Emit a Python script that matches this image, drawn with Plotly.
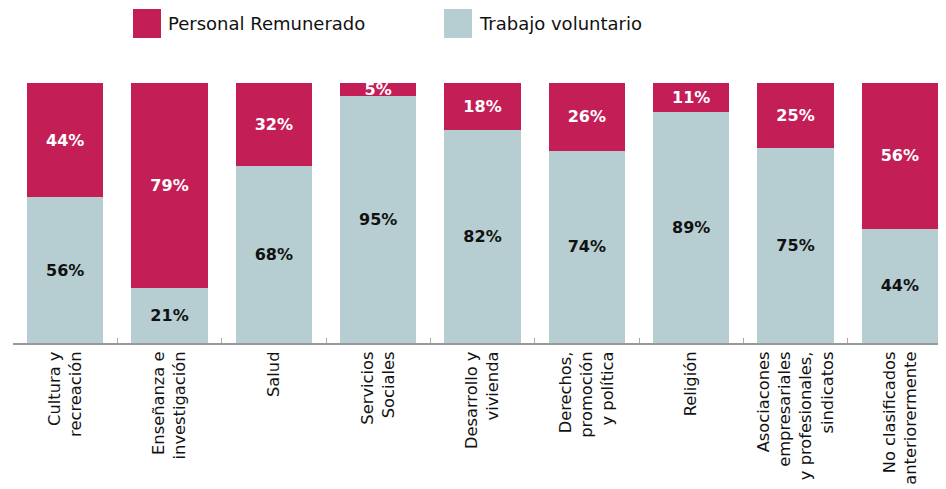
import plotly.graph_objects as go

categorias = ['Cultura y<br>recreación', 'Enseñanza e<br>investigación', 'Salud',
              'Servicios<br>Sociales', 'Desarrollo y<br>vivienda',
              'Derechos,<br>promoción<br>y política', 'Religión',
              'Asociacones<br>empresariales<br>y profesionales,<br>sindicatos',
              'No clasificados<br>anteriorermente']
remunerado = [44, 79, 32, 5, 18, 26, 11, 25, 56]
voluntario = [56, 21, 68, 95, 82, 74, 89, 75, 44]

ROJO = '#C41E56'
GRIS = '#B6CED1'
FUENTE = 'DejaVu Sans'

fig = go.Figure()

fig.add_trace(go.Bar(x=categorias, y=voluntario, name='Trabajo voluntario',
                     marker=dict(color=GRIS, line=dict(width=0)),
                     text=[f'{v}%' for v in voluntario],
                     textposition='inside', insidetextanchor='middle',
                     textfont=dict(color='#111111', size=16, family=FUENTE, weight='bold'),
                     showlegend=False, hoverinfo='skip'))
fig.add_trace(go.Bar(x=categorias, y=remunerado, name='Personal Remunerado',
                     marker=dict(color=ROJO, line=dict(width=0)),
                     text=[f'{v}%' for v in remunerado],
                     textposition='inside', insidetextanchor='middle',
                     textfont=dict(color='white', size=16, family=FUENTE, weight='bold'),
                     showlegend=False, hoverinfo='skip'))

# leyenda dibujada a mano (cuadros grandes)
leyenda = [('Personal Remunerado', ROJO, 133), ('Trabajo voluntario', GRIS, 444)]
for nombre, color, x0 in leyenda:
    fig.add_shape(type='rect', xref='paper', yref='paper',
                  x0=(x0 - 13) / 939, x1=(x0 + 28 - 13) / 939,
                  y0=(343 - 38) / 260, y1=(343 - 9) / 260,
                  fillcolor=color, line=dict(width=0))
    fig.add_annotation(text=nombre, xref='paper', yref='paper',
                       x=(x0 + 33 - 13) / 939, y=(343 - 24) / 260,
                       xanchor='left', yanchor='middle', showarrow=False,
                       font=dict(size=18, color='#111111', family=FUENTE))

fig.update_layout(
    width=946, height=489,
    barmode='stack', bargap=0.27,
    margin=dict(l=5, r=2, t=75, b=154, autoexpand=False),
    plot_bgcolor='white', paper_bgcolor='white',
    uniformtext=dict(minsize=16, mode='show'),
    font=dict(family=FUENTE, color='#111111'),
)
fig.update_xaxes(tickangle=-90, tickfont=dict(size=16.3, color='#111111', family=FUENTE),
                 showline=True, linecolor='#999999', linewidth=2,
                 ticks='inside', tickson='boundaries', ticklen=5, tickcolor='#aaaaaa',
                 range=[-0.5, 8.5], showgrid=False, automargin=False)
fig.update_yaxes(range=[0, 100], visible=False, showgrid=False, automargin=False)

fig.write_html('out.html')
